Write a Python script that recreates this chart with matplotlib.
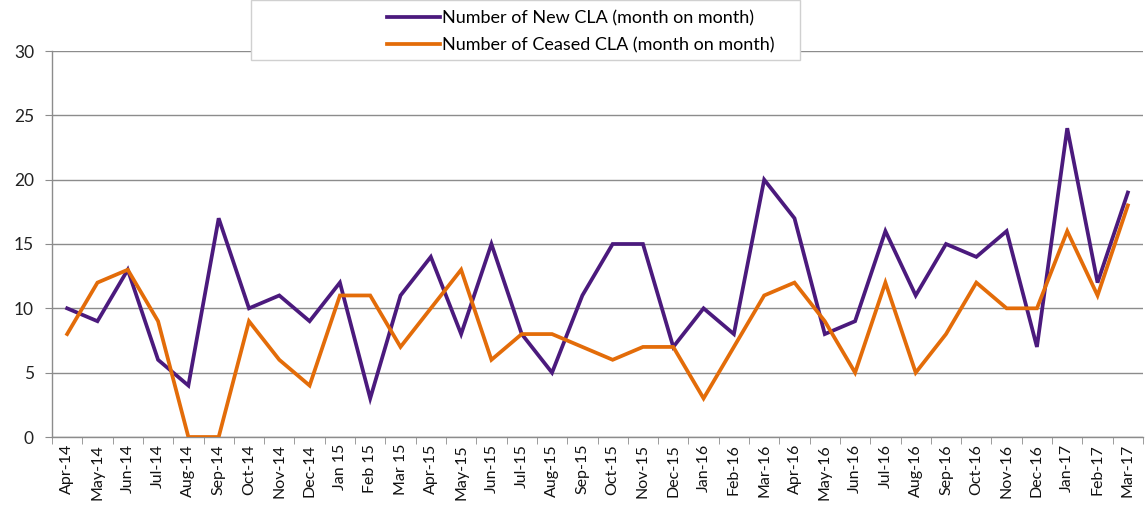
import matplotlib
matplotlib.use("Agg")
import matplotlib.pyplot as plt
from matplotlib.patches import Rectangle
from matplotlib.lines import Line2D

months = ["Apr-14", "May-14", "Jun-14", "Jul-14", "Aug-14", "Sep-14", "Oct-14", "Nov-14",
          "Dec-14", "Jan 15", "Feb 15", "Mar 15", "Apr-15", "May-15", "Jun-15", "Jul-15",
          "Aug-15", "Sep-15", "Oct-15", "Nov-15", "Dec-15", "Jan-16", "Feb-16", "Mar-16",
          "Apr-16", "May-16", "Jun-16", "Jul-16", "Aug-16", "Sep-16", "Oct-16", "Nov-16",
          "Dec-16", "Jan-17", "Feb-17", "Mar-17"]
new_cla = [10, 9, 13, 6, 4, 17, 10, 11, 9, 12, 3, 11, 14, 8, 15, 8, 5, 11, 15, 15, 7, 10,
           8, 20, 17, 8, 9, 16, 11, 15, 14, 16, 7, 24, 12, 19]
ceased_cla = [8, 12, 13, 9, 0, 0, 9, 6, 4, 11, 11, 7, 10, 13, 6, 8, 8, 7, 6, 7, 7, 3,
              7, 11, 12, 9, 5, 12, 5, 8, 12, 10, 10, 16, 11, 18]
series_names = ["Number of New CLA (month on month)", "Number of Ceased CLA (month on month)"]
y_ticks = [0, 5, 10, 15, 20, 25, 30]

PURPLE = "#4B1A7D"
ORANGE = "#E36C09"
GRID = "#8C8C8C"

plt.rcParams['font.family'] = ['Lato', 'DejaVu Sans']

fig = plt.figure(figsize=(11.45, 5.12), dpi=100)
ax = fig.add_axes([52/1145, 1-437/512, (1143-52)/1145, (437-51)/512])

x = list(range(len(months)))
ax.plot(x, new_cla, color=PURPLE, lw=2.7, solid_joinstyle='miter', zorder=3)
ax.plot(x, ceased_cla, color=ORANGE, lw=2.7, solid_joinstyle='miter', zorder=3)

ax.set_xlim(-0.5, len(months) - 0.5)
ax.set_ylim(0, 30)
ax.set_yticks(y_ticks)
ax.set_yticklabels([str(v) for v in y_ticks], fontsize=12.5, color="#222222")
ax.yaxis.grid(True, color=GRID, lw=1)
ax.set_axisbelow(True)

ax.set_xticks(x)
ax.set_xticklabels(months, rotation=90, fontsize=11.5, color="#111111")
ax.tick_params(axis='x', length=0, pad=5)
ax.set_xticks([i - 0.5 for i in range(len(months) + 1)], minor=True)
ax.tick_params(axis='x', which='minor', length=5, color=GRID, direction='out')
ax.tick_params(axis='y', length=5, color=GRID, direction='out', pad=8)

for s in ['top', 'right']:
    ax.spines[s].set_visible(False)
for s in ['left', 'bottom']:
    ax.spines[s].set_color(GRID)
    ax.spines[s].set_linewidth(1)

# legend box
fig.patches.append(Rectangle((251/1145, 1-60/512), (800-251)/1145, 60/512,
                             transform=fig.transFigure, facecolor='white',
                             edgecolor='#D0D0D0', lw=1, zorder=5))
handles = [Line2D([], [], color=PURPLE, lw=2.7), Line2D([], [], color=ORANGE, lw=2.7)]
leg = fig.legend(handles, series_names, loc='upper left',
                 bbox_to_anchor=(382/1145, 1.0 - 5/512), frameon=False,
                 fontsize=13, handlelength=2.9, handletextpad=0.1,
                 labelspacing=0.57, borderpad=0.3, borderaxespad=0)
leg.set_zorder(6)

fig.savefig("out.png", dpi=100)
